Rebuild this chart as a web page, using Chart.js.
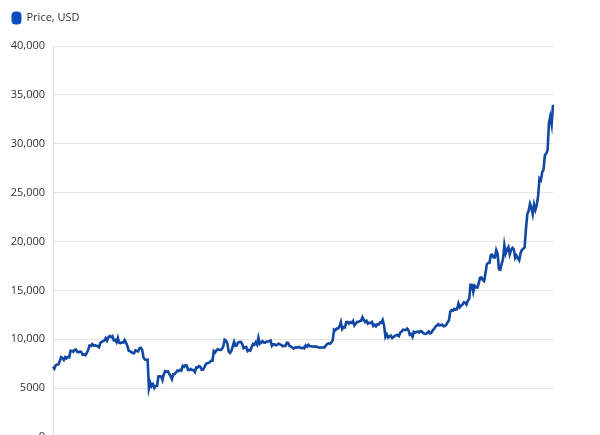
<!DOCTYPE html>
<html>
<head>
<meta charset="utf-8">
<script src="https://cdn.jsdelivr.net/npm/chart.js@4.4.1/dist/chart.umd.min.js"></script>
<style>
  html, body { margin: 0; padding: 0; background: #ffffff; overflow: hidden; }
  #wrap { width: 600px; height: 460px; }
</style>
</head>
<body>
<div id="wrap"><canvas id="c" width="600" height="460"></canvas></div>
<script>
// Monthly blocks of daily closing prices (USD)
const months = ['2020-01','2020-02','2020-03','2020-04','2020-05','2020-06','2020-07','2020-08','2020-09','2020-10','2020-11','2020-12','2021-01'];
const jan20 = [7200,6985,7345,7410,7411,7769,8163,8079,7879,8166,8037,8192,8144,8828,8807,8723,8929,8942,8706,8658,8745,8680,8406,8445,8367,8596,8910,9358,9317,9509,9350];
const feb20 = [9393,9345,9294,9180,9613,9730,9796,9866,10117,9857,10208,10327,10214,10313,9890,9935,9691,10142,9633,9609,9687,9664,9925,9651,9341,8821,8785,8672,8599];
const mar20 = [8562,8869,8787,8756,9078,9122,8909,8108,7923,7909,7911,4970,5563,5200,5392,5014,5225,5238,6191,6198,6185,5830,6416,6734,6681,6716,6469,6242,5922,6429,6438];
const apr20 = [6606,6793,6733,6868,6791,7271,7176,7335,7302,6865,6859,6971,6845,6842,6642,7116,7096,7257,7189,6881,6880,7117,7429,7550,7569,7679,7795,7807,8801,8658];
const may20 = [8864,8988,8897,8912,9003,9268,9951,9842,9593,8756,8601,8804,9269,9733,9328,9377,9670,9726,9729,9522,9081,9182,9209,8790,8906,8835,9181,9525,9439,9700,9461];
const jun20 = [10167,9529,9657,9800,9665,9653,9758,9771,9795,9870,9321,9480,9475,9386,9450,9538,9480,9411,9288,9332,9303,9648,9629,9313,9264,9162,9046,9143,9190,9138];
const jul20 = [9228,9123,9087,9133,9073,9375,9252,9428,9277,9278,9240,9276,9243,9243,9192,9132,9151,9159,9185,9164,9374,9525,9581,9536,9677,9905,10990,10912,11100,11111,11323];
const aug20 = [11759,11053,11246,11205,11747,11779,11601,11754,11675,11878,11410,11584,11784,11768,11865,11892,12254,11991,11758,11878,11592,11681,11664,11774,11366,11488,11323,11542,11506,11711,11680];
const sep20 = [11970,11414,10245,10511,10169,10280,10369,10131,10242,10363,10400,10442,10323,10680,10796,10974,10948,10944,11094,10938,10462,10538,10246,10760,10692,10750,10775,10709,10844,10784];
const oct20 = [10620,10570,10542,10666,10793,10604,10668,10915,11064,11296,11384,11555,11425,11429,11495,11323,11358,11483,11742,11916,12823,12965,12931,13108,13031,13075,13654,13271,13437,13546,13781];
const nov20 = [13737,13550,13950,14133,15579,15565,14833,15479,15332,15290,15701,16276,16317,16068,15955,16716,17645,17804,17817,18621,18642,18370,18364,19107,18732,17150,17108,17717,18177,19625];
const dec20 = [18802,19201,19445,18699,19154,19346,19191,18321,18553,18264,18058,18803,19142,19246,19417,21310,22805,23137,23869,23478,22803,23783,23241,23736,24664,26437,26272,27084,27362,28841,29002];
const jan21 = [29374,32127,32782,31972,33992];

const yTicks = [0,5000,10000,15000,20000,25000,30000,35000,40000];
const seriesName = 'Price, USD';

const blocks = [jan20,feb20,mar20,apr20,may20,jun20,jul20,aug20,sep20,oct20,nov20,dec20,jan21];
const labels = [];
const prices = [];
blocks.forEach((b, mi) => {
  b.forEach((v, di) => {
    labels.push(months[mi] + '-' + String(di + 1).padStart(2, '0'));
    prices.push(v);
  });
});

const legendSpace = {
  id: 'legendSpace',
  beforeLayout(chart) {
    const lg = chart.legend;
    if (lg && !lg._patched) {
      const orig = lg.fit;
      lg.fit = function () { orig.call(this); this.height += 12; };
      lg._patched = true;
    }
  }
};

new Chart(document.getElementById('c'), {
  type: 'line',
  data: {
    labels: labels,
    datasets: [{
      label: seriesName,
      data: prices,
      borderColor: '#1048a4',
      backgroundColor: '#0b4fbf',
      borderWidth: 2.6,
      pointRadius: 0,
      pointHoverRadius: 0,
      tension: 0,
      fill: false
    }]
  },
  plugins: [legendSpace],
  options: {
    responsive: false,
    animation: false,
    layout: { padding: { top: 2, left: 2, right: 47, bottom: 23 } },
    plugins: {
      tooltip: { enabled: false },
      legend: {
        display: true,
        position: 'top',
        align: 'start',
        labels: {
          boxWidth: 9,
          boxHeight: 12,
          padding: 10,
          useBorderRadius: true,
          borderRadius: 3,
          color: '#333333',
          font: { family: 'Open Sans', size: 11 },
          generateLabels(chart) {
            const items = Chart.defaults.plugins.legend.labels.generateLabels(chart);
            items.forEach(it => { it.fillStyle = '#0b4fbf'; it.strokeStyle = '#0b4fbf'; it.lineWidth = 1; });
            return items;
          }
        }
      }
    },
    scales: {
      x: { display: false },
      y: {
        min: 0,
        max: 40000,
        afterFit(axis) { axis.width = 51; },
        afterBuildTicks(axis) { axis.ticks = yTicks.map(v => ({ value: v })); },
        ticks: {
          padding: 8,
          color: '#333333',
          font: { family: 'Open Sans', size: 11 },
          callback: v => (v >= 10000 ? v.toLocaleString('en-US') : String(v))
        },
        grid: { color: '#e6e6e6', lineWidth: 1, drawTicks: false },
        border: { display: true, color: '#e0e0e0', width: 1 }
      }
    }
  }
});
</script>
</body>
</html>
